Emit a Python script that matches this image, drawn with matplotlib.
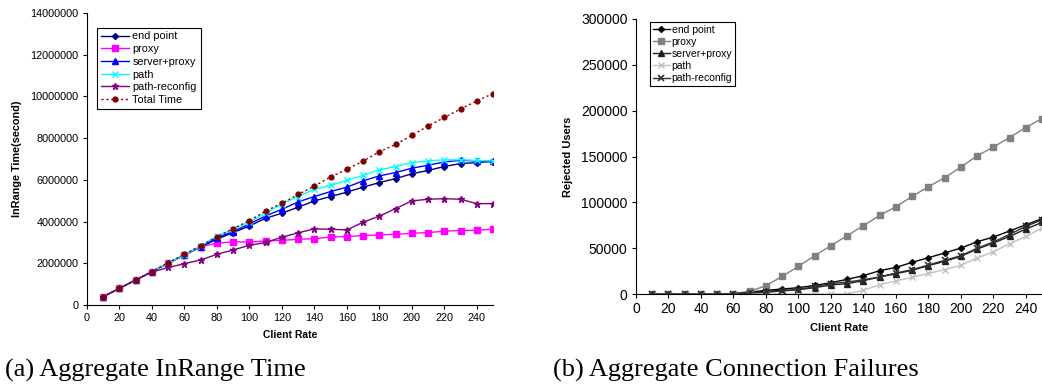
import matplotlib
matplotlib.use("Agg")
import matplotlib.pyplot as plt
from matplotlib.ticker import FuncFormatter

plt.rcParams['font.family'] = ['Liberation Sans', 'DejaVu Sans']

rate = [10, 20, 30, 40, 50, 60, 70, 80, 90, 100, 110, 120, 130, 140, 150, 160,
        170, 180, 190, 200, 210, 220, 230, 240, 250]

# (a) Aggregate InRange Time (seconds)
inr_end_point = [0.40e6, 0.80e6, 1.20e6, 1.60e6, 2.00e6, 2.40e6, 2.78e6, 3.16e6, 3.47e6, 3.79e6,
                 4.16e6, 4.40e6, 4.69e6, 4.99e6, 5.20e6, 5.41e6, 5.65e6, 5.87e6, 6.06e6, 6.29e6,
                 6.45e6, 6.64e6, 6.78e6, 6.83e6, 6.88e6]
inr_proxy = [0.40e6, 0.80e6, 1.20e6, 1.60e6, 2.00e6, 2.40e6, 2.80e6, 2.96e6, 3.03e6, 3.02e6,
             3.07e6, 3.10e6, 3.15e6, 3.18e6, 3.26e6, 3.28e6, 3.33e6, 3.36e6, 3.39e6, 3.44e6,
             3.47e6, 3.54e6, 3.57e6, 3.58e6, 3.64e6]
inr_server_proxy = [0.40e6, 0.80e6, 1.20e6, 1.60e6, 2.00e6, 2.40e6, 2.80e6, 3.23e6, 3.52e6, 3.89e6,
                    4.27e6, 4.59e6, 4.94e6, 5.20e6, 5.44e6, 5.65e6, 5.95e6, 6.19e6, 6.35e6, 6.56e6,
                    6.70e6, 6.86e6, 6.94e6, 6.91e6, 6.90e6]
inr_path = [0.40e6, 0.80e6, 1.20e6, 1.60e6, 2.00e6, 2.40e6, 2.83e6, 3.31e6, 3.63e6, 4.00e6,
            4.40e6, 4.85e6, 5.20e6, 5.55e6, 5.74e6, 5.97e6, 6.22e6, 6.48e6, 6.64e6, 6.83e6,
            6.91e6, 6.96e6, 6.96e6, 6.93e6, 6.90e6]
inr_path_reconfig = [0.40e6, 0.80e6, 1.20e6, 1.58e6, 1.80e6, 1.98e6, 2.16e6, 2.43e6, 2.64e6, 2.86e6,
                     3.00e6, 3.25e6, 3.46e6, 3.65e6, 3.63e6, 3.60e6, 3.97e6, 4.26e6, 4.62e6, 4.99e6,
                     5.07e6, 5.10e6, 5.07e6, 4.86e6, 4.86e6]
inr_total = [0.40e6, 0.80e6, 1.20e6, 1.60e6, 2.03e6, 2.43e6, 2.85e6, 3.26e6, 3.66e6, 4.05e6,
             4.50e6, 4.88e6, 5.30e6, 5.70e6, 6.14e6, 6.50e6, 6.90e6, 7.34e6, 7.70e6, 8.13e6,
             8.58e6, 8.99e6, 9.40e6, 9.78e6, 10.14e6]

# (b) Aggregate Connection Failures (rejected users)
rej_end_point = [0, 0, 0, 0, 0, 500, 2000, 4000, 5400, 6900, 9400, 12300, 16000, 20000, 25400,
                 29000, 34500, 39600, 44700, 50100, 57000, 62100, 68700, 75500, 82100]
rej_proxy = [0, 0, 0, 0, 0, 500, 2900, 9000, 19300, 30100, 41800, 52700, 63600, 74500, 85700,
             95200, 106400, 117000, 126800, 138400, 150700, 160200, 170700, 181600, 191400]
rej_server_proxy = [0, 0, 0, 0, 0, 300, 1500, 3000, 4000, 4700, 6900, 9800, 11300, 14500, 18500,
                    22200, 25800, 30900, 35600, 41000, 49000, 55600, 62800, 70800, 78100]
rej_path = [0, 0, 0, 0, 0, 0, 0, 0, 0, 0, 0, 0, 0, 4000, 10200, 14200, 18200, 22500, 26500,
            31200, 39200, 46100, 54800, 62800, 71900]
rej_path_reconfig = [0, 0, 0, 0, 0, 300, 1000, 1800, 3300, 4700, 8400, 11300, 13000, 15600, 18500,
                     22900, 26500, 31600, 36700, 41800, 49800, 56700, 65000, 73700, 81000]

x_ticks = list(range(0, 241, 20))
left_yticks = list(range(0, 14000001, 2000000))
right_yticks = list(range(0, 300001, 50000))

fig = plt.figure(figsize=(10.42, 3.85), dpi=100)

plain = FuncFormatter(lambda v, p: f"{int(round(v))}")

# ---------------- Left chart ----------------
ax1 = fig.add_axes([87/1042, 1 - 305/385, 406/1042, 292/385])
ms = 4
ax1.plot(rate, inr_end_point, color='#000080', marker='D', ms=3, lw=1, label='end point')
ax1.plot(rate, inr_proxy, color='#FF00FF', marker='s', ms=ms, lw=1, label='proxy')
ax1.plot(rate, inr_server_proxy, color='#0000FF', marker='^', ms=ms, lw=1, label='server+proxy')
ax1.plot(rate, inr_path, color='#00FFFF', marker='x', ms=ms, mew=1, lw=1, label='path')
ax1.plot(rate, inr_path_reconfig, color='#800080', marker='*', ms=5, lw=1, label='path-reconfig')
ax1.plot(rate, inr_total, color='#800000', marker='o', ms=3.5, lw=1, ls=(0, (1.5, 2)),
         label='Total Time')
ax1.set_xlim(0, 250)
ax1.set_ylim(0, 14000000)
ax1.set_xticks(x_ticks)
ax1.set_yticks(left_yticks)
ax1.yaxis.set_major_formatter(plain)
for s in ['top', 'right']:
    ax1.spines[s].set_visible(False)
ax1.tick_params(labelsize=7.8, length=3, width=0.8, direction='out', pad=3)
ax1.set_xlabel('Client Rate', fontsize=7.5, fontweight='bold', labelpad=5)
ax1.set_ylabel('InRange Time(second)', fontsize=7.8, fontweight='bold', labelpad=6)
leg1 = ax1.legend(loc='upper left', bbox_to_anchor=(0.025, 0.95), fontsize=7.8,
                  frameon=True, fancybox=False, edgecolor='black', framealpha=1,
                  handlelength=2.6, handletextpad=0.3, borderpad=0.35, labelspacing=0.25,
                  borderaxespad=0)
leg1.get_frame().set_linewidth(0.8)

# ---------------- Right chart ----------------
ax2 = fig.add_axes([636/1042, 1 - 294/385, 406/1042, 275/385])
ax2.plot(rate, rej_end_point, color='black', marker='D', ms=3, lw=1, label='end point')
ax2.plot(rate, rej_proxy, color='#808080', marker='s', ms=4, lw=1, label='proxy')
ax2.plot(rate, rej_server_proxy, color='#202020', marker='^', ms=4, lw=1, label='server+proxy')
ax2.plot(rate, rej_path, color='#C0C0C0', marker='x', ms=4, mew=1, lw=1, label='path')
ax2.plot(rate, rej_path_reconfig, color='#303030', marker='x', ms=4, mew=1.2, lw=1,
         label='path-reconfig')
ax2.set_xlim(0, 250)
ax2.set_ylim(0, 300000)
ax2.set_xticks(x_ticks)
ax2.set_yticks(right_yticks)
ax2.yaxis.set_major_formatter(plain)
for s in ['top', 'right']:
    ax2.spines[s].set_visible(False)
ax2.tick_params(labelsize=10, length=3, width=0.8, direction='out', pad=3)
ax2.set_xlabel('Client Rate', fontsize=8, fontweight='bold', labelpad=5)
ax2.set_ylabel('Rejected Users', fontsize=8, fontweight='bold', labelpad=6)
leg2 = ax2.legend(loc='upper left', bbox_to_anchor=(0.034, 0.99), fontsize=7.5,
                  frameon=True, fancybox=False, edgecolor='black', framealpha=1,
                  handlelength=1.6, handletextpad=0.2, borderpad=0.3, labelspacing=0.2,
                  borderaxespad=0)
leg2.get_frame().set_linewidth(0.8)

# ---------------- Captions ----------------
fig.text(5/1042, 1 - 377/385, '(a) Aggregate InRange Time', fontsize=19,
         family=['Liberation Serif', 'DejaVu Serif'], ha='left', va='baseline')
fig.text(553/1042, 1 - 377/385, '(b) Aggregate Connection Failures', fontsize=19,
         family=['Liberation Serif', 'DejaVu Serif'], ha='left', va='baseline')

fig.savefig('out.png', dpi=100)
